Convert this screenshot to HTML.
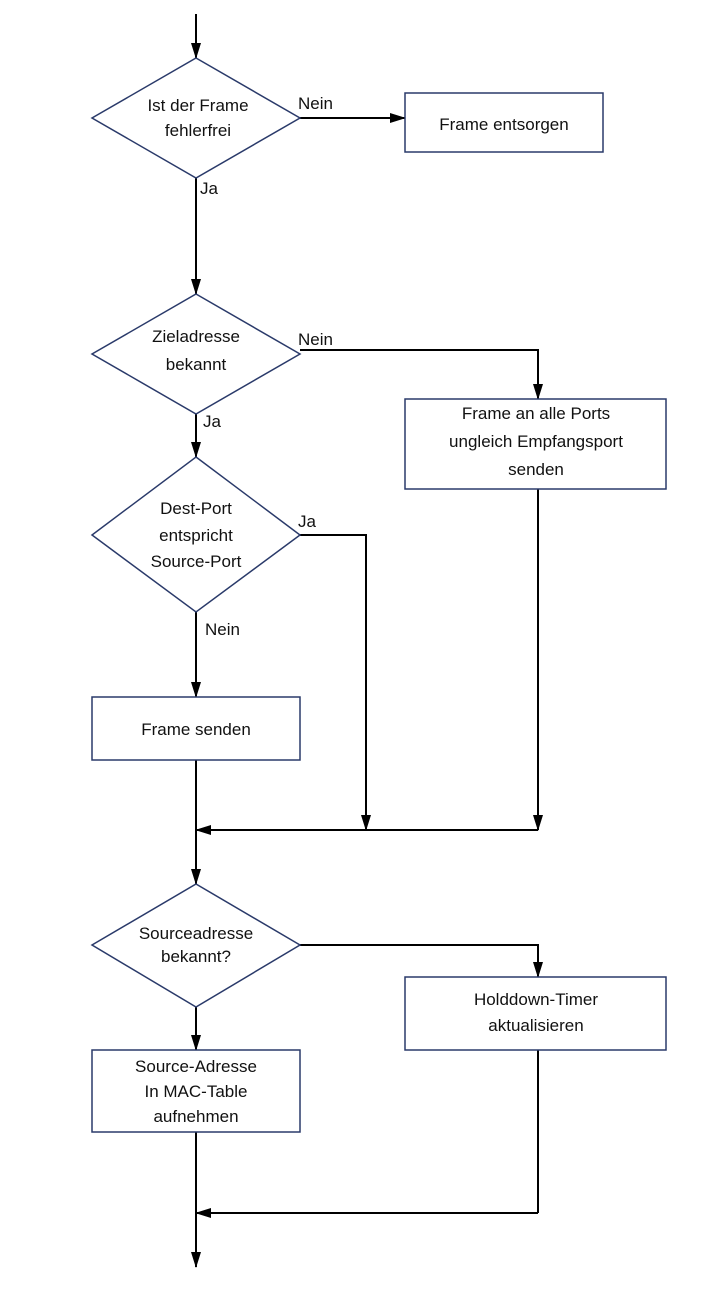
<!DOCTYPE html>
<html><head><meta charset="utf-8"><style>
html,body{margin:0;padding:0;background:#fff;}
svg{display:block;}
text{font-family:"Liberation Sans",sans-serif;font-size:17px;fill:#111;}
</style></head><body>
<svg width="728" height="1302" viewBox="0 0 728 1302" xmlns="http://www.w3.org/2000/svg">
<defs><marker id="a" markerWidth="16" markerHeight="12" refX="15" refY="6" orient="auto" markerUnits="userSpaceOnUse"><path d="M0,1 L16,6 L0,11 z" fill="#000"/></marker></defs>
<g stroke="#000" stroke-width="2" fill="none">
<line x1="196" y1="14" x2="196" y2="58" marker-end="url(#a)"/>
<line x1="300" y1="118" x2="405" y2="118" marker-end="url(#a)"/>
<line x1="196" y1="178" x2="196" y2="294" marker-end="url(#a)"/>
<polyline points="300,350 538,350 538,399" marker-end="url(#a)"/>
<line x1="196" y1="414" x2="196" y2="457" marker-end="url(#a)"/>
<polyline points="300,535 366,535 366,830" marker-end="url(#a)"/>
<line x1="196" y1="612" x2="196" y2="697" marker-end="url(#a)"/>
<line x1="538" y1="489" x2="538" y2="830" marker-end="url(#a)"/>
<line x1="538" y1="830" x2="196" y2="830" marker-end="url(#a)"/>
<line x1="196" y1="760" x2="196" y2="884" marker-end="url(#a)"/>
<polyline points="300,945 538,945 538,977" marker-end="url(#a)"/>
<line x1="196" y1="1007" x2="196" y2="1050" marker-end="url(#a)"/>
<line x1="538" y1="1050" x2="538" y2="1213"/>
<line x1="538" y1="1213" x2="196" y2="1213" marker-end="url(#a)"/>
<line x1="196" y1="1132" x2="196" y2="1267" marker-end="url(#a)"/>
</g>
<g stroke="#2a3a6a" stroke-width="1.5" fill="#fff">
<polygon points="196,58 300,118 196,178 92,118"/>
<polygon points="196,294 300,354 196,414 92,354"/>
<polygon points="196,457 300,535 196,612 92,535"/>
<polygon points="196,884 300,945 196,1007 92,945"/>
<rect x="405" y="93" width="198" height="59"/>
<rect x="405" y="399" width="261" height="90"/>
<rect x="92" y="697" width="208" height="63"/>
<rect x="405" y="977" width="261" height="73"/>
<rect x="92" y="1050" width="208" height="82"/>
</g>
<g text-anchor="middle">
<text x="198" y="111">Ist der Frame</text>
<text x="198" y="136">fehlerfrei</text>
<text x="504" y="130">Frame entsorgen</text>
<text x="196" y="342">Zieladresse</text>
<text x="196" y="370">bekannt</text>
<text x="536" y="419">Frame an alle Ports</text>
<text x="536" y="447">ungleich Empfangsport</text>
<text x="536" y="475">senden</text>
<text x="196" y="514">Dest-Port</text>
<text x="196" y="541">entspricht</text>
<text x="196" y="567">Source-Port</text>
<text x="196" y="735">Frame senden</text>
<text x="196" y="939">Sourceadresse</text>
<text x="196" y="962">bekannt?</text>
<text x="536" y="1005">Holddown-Timer</text>
<text x="536" y="1031">aktualisieren</text>
<text x="196" y="1072">Source-Adresse</text>
<text x="196" y="1097">In MAC-Table</text>
<text x="196" y="1122">aufnehmen</text>
</g>
<text x="298" y="109">Nein</text>
<text x="200" y="194">Ja</text>
<text x="298" y="345">Nein</text>
<text x="203" y="427">Ja</text>
<text x="298" y="527">Ja</text>
<text x="205" y="635">Nein</text>
</svg>
</body></html>
